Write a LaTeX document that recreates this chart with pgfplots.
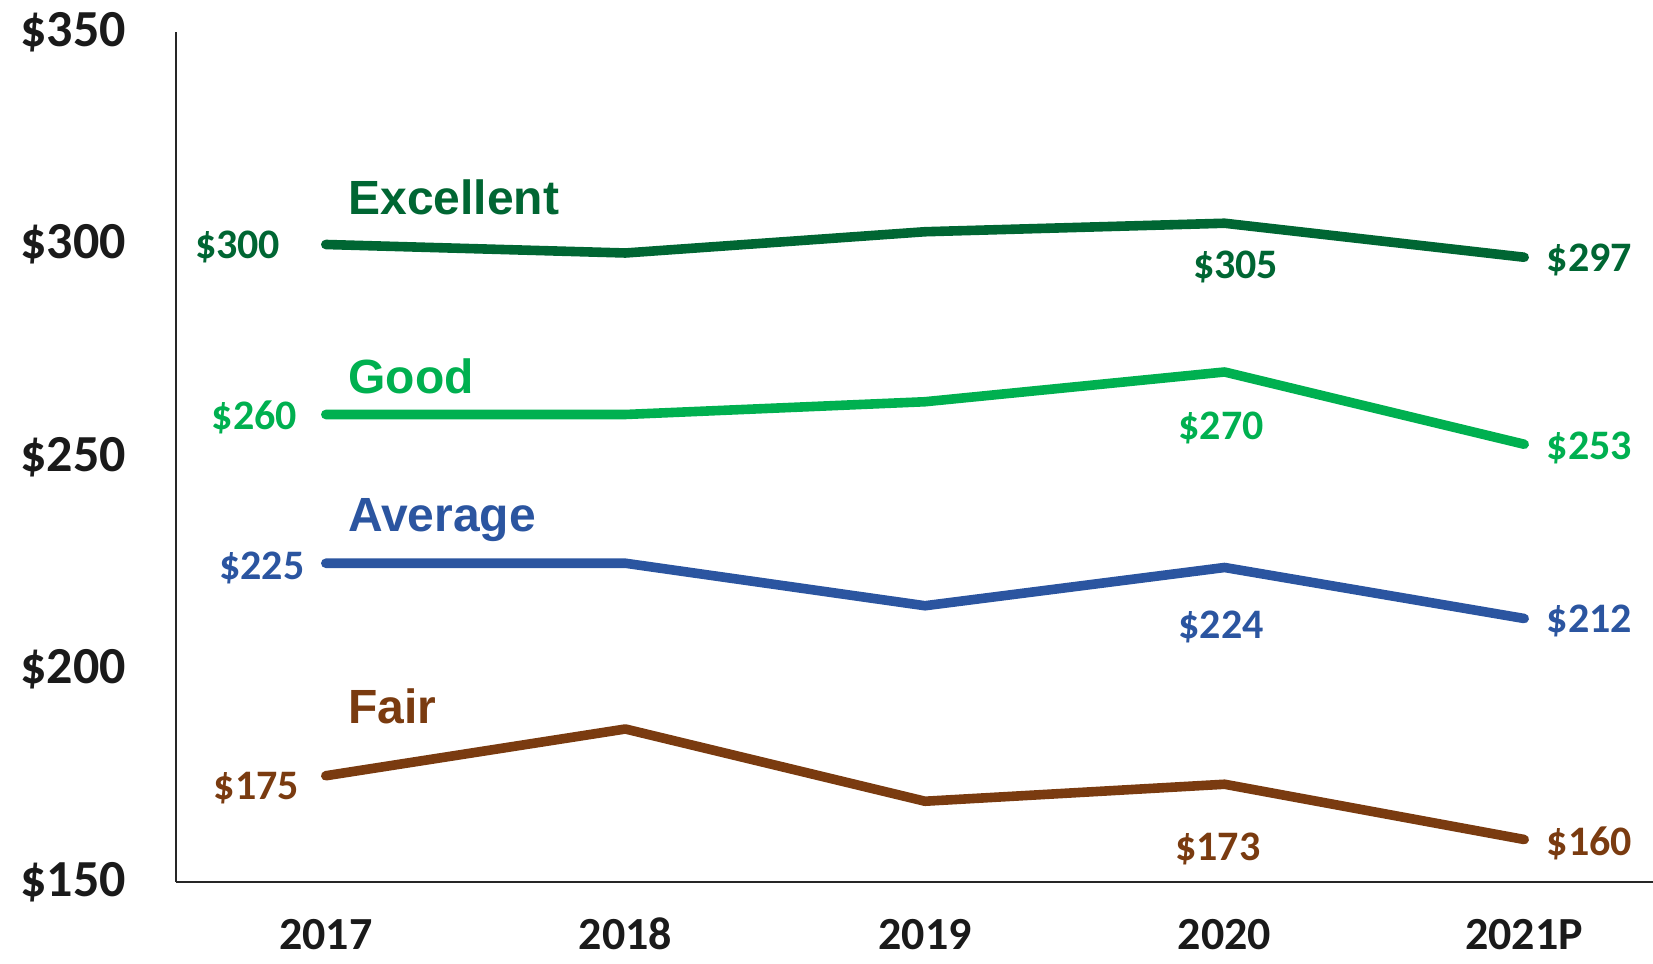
\documentclass[border=0pt]{standalone}
\usepackage{fontspec}
\setmainfont{Carlito}
\newfontfamily\namefont{Liberation Sans}
\usepackage{pgfplots}
\pgfplotsset{compat=1.18}
\definecolor{cExc}{RGB}{0,102,51}
\definecolor{cGood}{RGB}{0,176,80}
\definecolor{cAvg}{RGB}{43,85,160}
\definecolor{cFair}{RGB}{122,59,16}
\definecolor{txt}{RGB}{26,26,26}
\tikzset{
  lbl/.style={font=\fontsize{21}{25}\selectfont\bfseries, inner sep=0pt},
  nm/.style={font=\namefont\fontsize{24}{28}\selectfont\bfseries, inner sep=0pt, anchor=base west},
}
\begin{document}
\begin{tikzpicture}
\path[use as bounding box] (0,0) rectangle (826.5pt,481.5pt);
\begin{axis}[
  at={(88pt,40.5pt)}, anchor=south west,
  scale only axis, width=738.5pt, height=425pt,
  xmin=-0.5, xmax=4.43, ymin=150, ymax=350,
  axis x line=bottom, axis y line=left,
  axis line style={-, draw=black!85, line width=1pt},
  xtick={0,1,2,3,4}, xticklabels={2017,2018,2019,2020,2021P},
  ytick={150,200,250,300,350}, yticklabels={\$150,\$200,\$250,\$300,\$350},
  major tick length=0pt,
  xticklabel style={font=\fontsize{23}{27}\selectfont\bfseries, text=txt, anchor=base, inner sep=0pt, yshift=-34pt},
  yticklabel style={font=\fontsize{26}{30}\selectfont\bfseries, text=txt, anchor=east, inner sep=0pt, xshift=-24.8pt},
  clip=false,
  every axis plot/.append style={line width=4.8pt, line cap=round, line join=round},
]
\addplot[cExc] coordinates {(0,300) (1,298) (2,303) (3,305) (4,297)};
\addplot[cGood] coordinates {(0,260) (1,260) (2,263) (3,270) (4,253)};
\addplot[cAvg] coordinates {(0,225) (1,225) (2,215) (3,224) (4,212)};
\addplot[cFair] coordinates {(0,175) (1,186) (2,169) (3,173) (4,160)};

\node[nm, text=cExc] at (axis cs:0.074,307.1) {Excellent};
\node[nm, text=cGood] at (axis cs:0.074,265) {Good};
\node[nm, text=cAvg] at (axis cs:0.074,232.5) {Average};
\node[nm, text=cFair] at (axis cs:0.074,187.4) {Fair};

\node[lbl, text=cExc, anchor=base east] at (axis cs:-0.151,296.8) {\$300};
\node[lbl, text=cGood, anchor=base east] at (axis cs:-0.095,256.4) {\$260};
\node[lbl, text=cAvg, anchor=base east] at (axis cs:-0.070,221.25) {\$225};
\node[lbl, text=cFair, anchor=base east] at (axis cs:-0.088,169.5) {\$175};

\node[lbl, text=cExc, anchor=base] at (axis cs:3.037,292.1) {\$305};
\node[lbl, text=cGood, anchor=base] at (axis cs:2.988,254.2) {\$270};
\node[lbl, text=cAvg, anchor=base] at (axis cs:2.988,207.4) {\$224};
\node[lbl, text=cFair, anchor=base] at (axis cs:2.977,155.1) {\$173};

\node[lbl, text=cExc, anchor=base west] at (axis cs:4.074,293.6) {\$297};
\node[lbl, text=cGood, anchor=base west] at (axis cs:4.074,249.3) {\$253};
\node[lbl, text=cAvg, anchor=base west] at (axis cs:4.074,208.6) {\$212};
\node[lbl, text=cFair, anchor=base west] at (axis cs:4.074,156.3) {\$160};
\end{axis}
\end{tikzpicture}
\end{document}
